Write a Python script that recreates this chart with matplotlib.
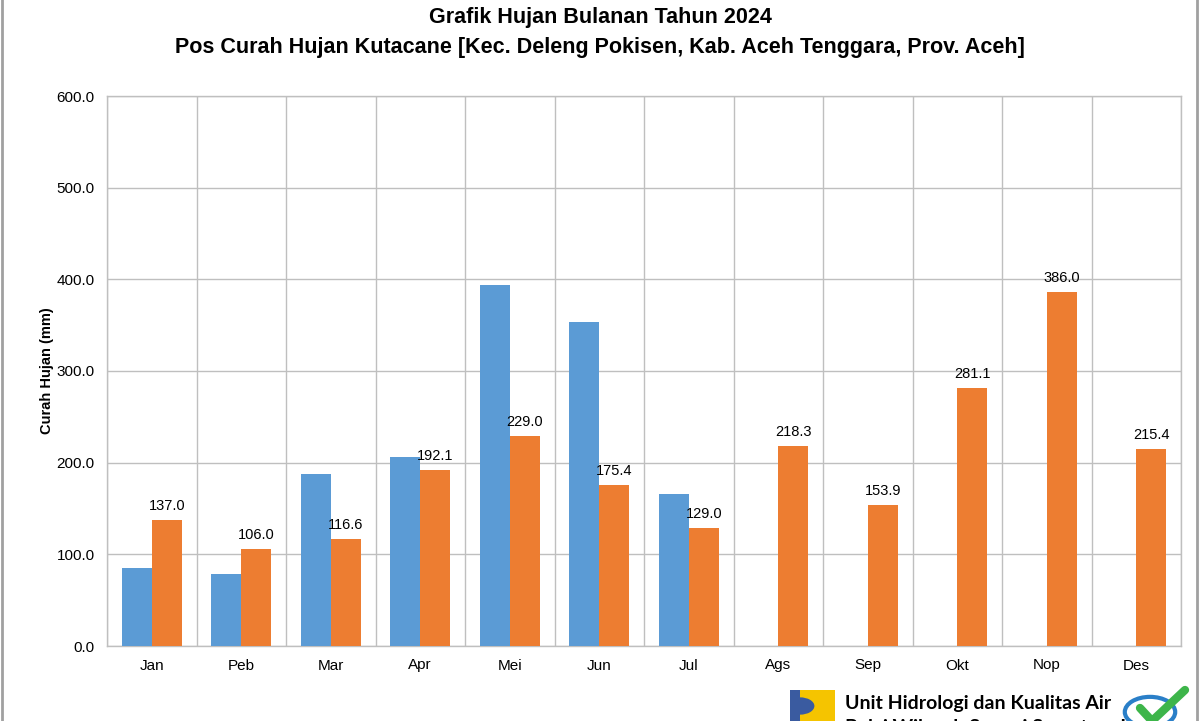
import matplotlib
matplotlib.use("Agg")
import matplotlib.pyplot as plt
from matplotlib.patches import Rectangle, Circle, Wedge
from matplotlib.lines import Line2D
import numpy as np

months = ["Jan", "Peb", "Mar", "Apr", "Mei", "Jun", "Jul", "Ags", "Sep", "Okt", "Nop", "Des"]
series_a = [84.7, 78.5, 188.0, 206.5, 394.0, 354.0, 166.0, None, None, None, None, None]
series_b = [137.0, 106.0, 116.6, 192.1, 229.0, 175.4, 129.0, 218.3, 153.9, 281.1, 386.0, 215.4]
yticks = [0, 100, 200, 300, 400, 500, 600]

plt.rcParams["font.family"] = ["Liberation Sans", "DejaVu Sans"]

fig = plt.figure(figsize=(12, 7.21), dpi=100)
ax = fig.add_axes([107/1200, 1-646/721, (1181-107)/1200, 550/721])

x = np.arange(len(months))
w = 0.335
a_vals = [v if v is not None else 0 for v in series_a]
ax.bar(x - w/2, a_vals, width=w, color="#5B9BD5", zorder=3)
ax.bar(x + w/2, series_b, width=w, color="#ED7D31", zorder=3)
for xi, v in zip(x, series_b):
    ax.annotate(f"{v:.1f}", (xi + w/2, v), xytext=(0, 5), textcoords="offset points",
                ha="center", va="bottom", fontsize=10.5, color="black")

ax.set_xlim(-0.5, 11.5)
ax.set_ylim(0, 600)
ax.set_yticks(yticks)
ax.set_yticklabels([f"{t:.1f}" for t in yticks], fontsize=11)
ax.set_xticks(x)
ax.set_xticklabels(months, fontsize=11)
ax.set_xticks(np.arange(-0.5, 12, 1), minor=True)
ax.tick_params(axis="both", which="both", length=0, pad=9)
ax.grid(axis="y", color="#BFBFBF", linewidth=1, zorder=0)
ax.grid(axis="x", which="minor", color="#BFBFBF", linewidth=1, zorder=0)
for s in ax.spines.values():
    s.set_color("#BFBFBF")
    s.set_linewidth(1)

ax.set_ylabel("Curah Hujan (mm)", fontsize=10.5, fontweight="bold", labelpad=2)

fig.text(0.5, 1-18/721, "Grafik Hujan Bulanan Tahun 2024", ha="center", va="center",
         fontsize=15.5, fontweight="bold")
fig.text(0.5, 1-48/721, "Pos Curah Hujan Kutacane [Kec. Deleng Pokisen, Kab. Aceh Tenggara, Prov. Aceh]",
         ha="center", va="center", fontsize=15.5, fontweight="bold")

# figure border lines
fig.add_artist(Line2D([2/1200, 2/1200], [0, 1], transform=fig.transFigure, color="#A0A0A0", lw=2))
fig.add_artist(Line2D([1197/1200, 1197/1200], [0, 1], transform=fig.transFigure, color="#A0A0A0", lw=2))

# footer logo
def fx(px): return px/1200
def fy(py): return 1 - py/721
fig.add_artist(Rectangle((fx(790), fy(721)), fx(45), 31/721, transform=fig.transFigure,
                         facecolor="#F5C400", edgecolor="none"))
fig.add_artist(Rectangle((fx(790), fy(721)), fx(10), 31/721, transform=fig.transFigure,
                         facecolor="#3A5BA0", edgecolor="none"))
fig.add_artist(Wedge((fx(800), fy(706)), 0.012, -90, 90, transform=fig.transFigure,
                     facecolor="#3A5BA0", edgecolor="none"))
fig.text(fx(845), fy(703), "Unit Hidrologi dan Kualitas Air", ha="left", va="center",
         fontsize=14, fontweight="bold", family=["Lato", "DejaVu Sans"])
fig.text(fx(845), fy(728), "Balai Wilayah Sungai Sumatera I", ha="left", va="center",
         fontsize=14, fontweight="bold", family=["Lato", "DejaVu Sans"])
# ISO badge
fig.add_artist(Circle((fx(1150), fy(712)), 0.021, transform=fig.transFigure,
                      facecolor="white", edgecolor="#2A7FC8", lw=3))
fig.add_artist(Line2D([fx(1140), fx(1152), fx(1185)], [fy(708), fy(721), fy(690)],
                      transform=fig.transFigure, color="#3DB54A", lw=6, solid_capstyle="round"))

fig.savefig("out.png", dpi=100)
